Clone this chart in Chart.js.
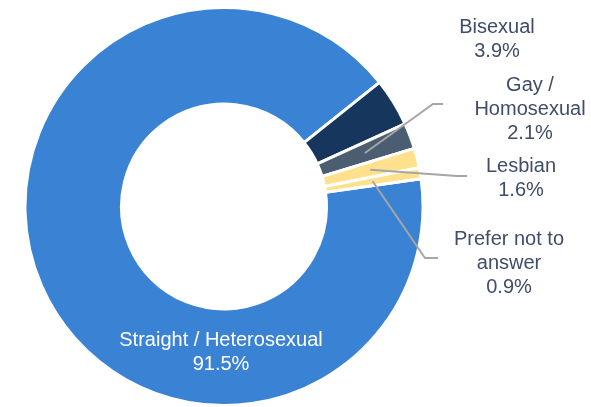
<!DOCTYPE html>
<html>
<head>
<meta charset="utf-8">
<script src="https://cdn.jsdelivr.net/npm/chart.js@4"></script>
<style>
  html, body { margin: 0; padding: 0; background: #fff; }
  #wrap { width: 591px; height: 407px; position: relative; }
</style>
</head>
<body>
<div id="wrap"><canvas id="myChart"></canvas></div>
<script>
// Data
const categories = ['Straight / Heterosexual', 'Bisexual', 'Gay / Homosexual', 'Lesbian', 'Prefer not to answer'];
const percents = [91.5, 3.9, 2.1, 1.6, 0.9];
const sliceColors = ['#3A82D4', '#17365D', '#4B5D71', '#FFE08C', '#FFE08C'];

// Label placement (x = text centre, y = first baseline), wrap width and leader line
const labelLayout = [
  { x: 221, y: 346, wrap: 400, color: '#FFFFFF' },
  { x: 497, y: 33, wrap: 120 },
  { x: 530, y: 91, wrap: 115, leader: [433, 104, 443] },
  { x: 521, y: 172, wrap: 120, leader: [457, 176, 467] },
  { x: 509, y: 245, wrap: 130, leader: [425, 258, 438] }
];
const labelFont = '20px Arial, "Liberation Sans", sans-serif';
const lineHeight = 24;

function wrapText(ctx, text, width) {
  const words = text.split(' ');
  const lines = [];
  let cur = '';
  words.forEach(w => {
    const test = cur ? cur + ' ' + w : w;
    if (cur && ctx.measureText(test).width > width) {
      lines.push(cur);
      cur = w;
    } else {
      cur = test;
    }
  });
  if (cur) lines.push(cur);
  return lines;
}

// Draw slice labels and leader lines
const sliceLabels = {
  id: 'sliceLabels',
  afterDatasetsDraw(chart) {
    const ctx = chart.ctx;
    const arcs = chart.getDatasetMeta(0).data;
    ctx.save();
    ctx.font = labelFont;
    ctx.textAlign = 'center';
    ctx.textBaseline = 'alphabetic';
    arcs.forEach((arc, i) => {
      const lay = labelLayout[i];
      if (lay.leader) {
        const p = arc.tooltipPosition();
        ctx.strokeStyle = '#A6A6A6';
        ctx.lineWidth = 2;
        ctx.beginPath();
        ctx.moveTo(p.x, p.y);
        ctx.lineTo(lay.leader[0], lay.leader[1]);
        ctx.lineTo(lay.leader[2], lay.leader[1]);
        ctx.stroke();
      }
      const lines = wrapText(ctx, chart.data.labels[i], lay.wrap);
      lines.push(percents[i].toFixed(1) + '%');
      ctx.fillStyle = lay.color || '#404D68';
      lines.forEach((ln, k) => ctx.fillText(ln, lay.x, lay.y + k * lineHeight));
    });
    ctx.restore();
  }
};

// Create the chart
function createChart() {
  const ctx = document.getElementById('myChart').getContext('2d');
  new Chart(ctx, {
    type: 'doughnut',
    data: {
      labels: categories,
      datasets: [{
        data: percents,
        backgroundColor: sliceColors,
        borderColor: '#FFFFFF',
        borderWidth: 3
      }]
    },
    options: {
      responsive: true,
      maintainAspectRatio: false,
      animation: false,
      cutout: '51.5%',
      rotation: 82,
      layout: { padding: { left: 22, right: 165, top: 6, bottom: -2 } },
      plugins: {
        legend: { display: false },
        tooltip: { enabled: false }
      }
    },
    plugins: [sliceLabels]
  });
}

createChart();
</script>
</body>
</html>
